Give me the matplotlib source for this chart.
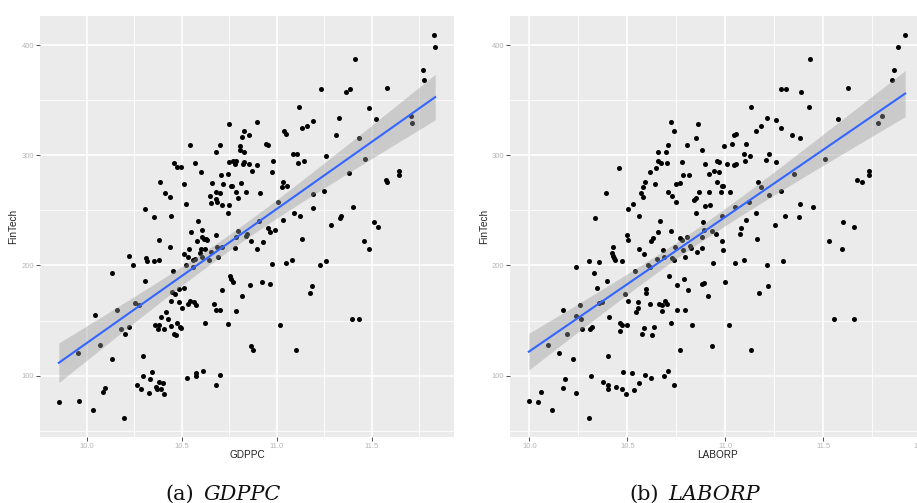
import numpy as np
import matplotlib
matplotlib.use("Agg")
import matplotlib.pyplot as plt

# ---------------- data ----------------
gdppc = [11.828, 11.835, 11.772, 11.775, 11.412, 11.235, 11.389, 11.363, 11.579, 11.118,
         11.489, 11.709, 11.711, 11.326, 11.525, 11.191, 11.158, 11.135, 10.896, 10.749,
         11.037, 11.049, 11.311, 11.435, 10.830, 10.856, 10.818, 10.544, 10.704, 10.807,
         10.942, 10.953, 10.805, 10.681, 10.828, 11.084, 11.109, 11.260, 11.463, 10.460,
         10.572, 10.474, 10.495, 10.604, 10.749, 10.770, 10.784, 10.781, 10.823, 10.826,
         10.854, 10.898, 10.982, 11.114, 11.142, 10.870, 10.977, 11.381, 10.746, 10.705,
         10.384, 10.511, 10.660, 10.719, 10.811, 11.035, 11.026, 11.053, 11.575, 11.582,
         11.644, 11.642, 10.758, 10.767, 10.679, 10.700, 10.786, 10.840, 10.912, 11.249,
         11.193, 10.411, 10.437, 10.651, 10.679, 10.656, 10.686, 10.712, 10.751, 10.795,
         10.523, 11.007, 10.307, 10.353, 10.446, 10.744, 11.191, 11.402, 11.089, 11.121,
         11.337, 11.333, 10.586, 10.907, 11.035, 11.284, 11.511, 11.533, 10.547, 10.607,
         10.679, 10.796, 10.954, 10.991, 10.967, 10.837, 10.846, 10.788, 10.382, 10.605,
         10.618, 10.626, 10.633, 10.579, 10.867, 10.930, 11.458, 11.133, 10.437, 10.539,
         10.600, 10.621, 10.684, 10.714, 10.781, 10.896, 11.484, 10.223, 10.314, 10.318,
         10.356, 10.381, 10.514, 10.535, 10.570, 10.561, 10.598, 10.607, 10.644, 10.656,
         10.691, 10.242, 10.135, 10.454, 10.525, 10.561, 10.977, 11.047, 11.079, 11.228,
         11.258, 10.305, 10.756, 10.758, 10.772, 10.861, 10.921, 10.967, 10.514, 10.486,
         10.449, 10.467, 10.711, 10.819, 11.174, 11.186, 10.444, 10.486, 10.535, 10.542,
         10.563, 10.577, 10.253, 10.275, 10.670, 10.504, 10.160, 10.416, 10.681, 10.700,
         10.786, 10.044, 10.389, 10.430, 10.625, 10.360, 10.381, 10.446, 10.491, 10.498,
         10.475, 10.742, 11.018, 11.398, 11.433, 10.182, 10.223, 10.200, 10.377, 10.405,
         10.461, 10.472, 9.954, 10.070, 10.135, 10.298, 10.863, 10.875, 11.102, 10.342,
         10.298, 10.332, 10.379, 10.402, 10.614, 10.575, 10.577, 10.700, 10.530, 10.263,
         10.288, 10.326, 10.367, 10.372, 10.391, 10.407, 10.679, 10.086, 10.096, 9.853,
         9.961, 10.035, 10.198]
fintech_a = [409, 398, 377, 368, 387, 360, 360, 357, 361, 344,
             343, 336, 329, 334, 333, 331, 327, 325, 330, 328,
             322, 319, 318, 316, 322, 318, 317, 309, 309, 308,
             310, 309, 305, 303, 303, 301, 301, 299, 297, 293,
             293, 289, 289, 285, 294, 295, 295, 292, 292, 294,
             292, 291, 295, 293, 295, 286, 285, 284, 283, 282,
             276, 274, 275, 274, 275, 276, 271, 272, 278, 276,
             286, 282, 272, 272, 267, 266, 267, 267, 266, 268,
             265, 266, 262, 263, 260, 257, 258, 255, 255, 261,
             256, 258, 251, 244, 245, 248, 252, 253, 248, 245,
             245, 243, 240, 240, 241, 237, 239, 235, 230, 232,
             228, 231, 234, 232, 230, 227, 229, 226, 223, 226,
             224, 224, 223, 222, 222, 221, 222, 224, 217, 215,
             215, 215, 217, 217, 216, 215, 215, 209, 207, 204,
             204, 205, 210, 208, 206, 205, 211, 208, 205, 212,
             208, 200, 193, 195, 200, 199, 201, 202, 205, 200,
             204, 186, 190, 188, 185, 182, 185, 183, 180, 179,
             176, 174, 178, 172, 175, 181, 168, 167, 165, 168,
             167, 164, 166, 164, 165, 161, 160, 158, 160, 160,
             159, 155, 153, 151, 148, 146, 146, 145, 144, 143,
             148, 147, 146, 151, 151, 142, 144, 138, 142, 142,
             138, 137, 121, 128, 115, 118, 127, 123, 123, 103,
             100, 97, 94, 93, 104, 102, 100, 101, 98, 92,
             88, 84, 90, 88, 88, 83, 92, 85, 89, 76,
             77, 69, 62]

laborp = [10.724, 10.861, 10.740, 10.852, 10.707, 10.806, 10.655, 10.697, 10.881, 10.655,
          10.670, 10.704, 10.781, 10.896, 10.456, 10.646, 10.616, 10.784, 10.815, 10.918,
          10.588, 10.643, 10.747, 10.769, 10.580, 10.570, 10.393, 10.707, 10.866, 10.917,
          10.580, 10.728, 10.748, 10.842, 10.849, 10.895, 10.923, 10.527, 10.503, 10.558,
          10.335, 10.667, 10.852, 10.888, 11.918, 11.881, 11.861, 11.850, 11.432, 11.286,
          11.311, 11.388, 11.626, 11.131, 11.427, 11.573, 11.211, 11.257, 11.182, 11.158,
          11.282, 11.779, 11.798, 11.053, 11.043, 11.036, 11.105, 10.995, 11.340, 11.381,
          11.095, 11.124, 11.102, 11.224, 11.206, 11.259, 10.959, 10.966, 11.007, 11.043,
          11.053, 10.942, 10.966, 11.510, 11.349, 11.672, 11.696, 11.735, 11.735, 10.956,
          10.981, 10.988, 10.978, 11.026, 11.168, 11.182, 11.223, 11.282, 11.121, 11.051,
          11.383, 11.446, 11.155, 11.104, 11.306, 11.374, 10.981, 11.255, 11.078, 11.600,
          11.655, 10.500, 10.503, 10.656, 10.724, 10.633, 10.622, 10.769, 10.779, 10.804,
          10.893, 10.930, 10.429, 10.420, 10.425, 10.434, 10.439, 10.474, 10.357, 10.304,
          10.560, 10.587, 10.680, 10.651, 10.687, 10.728, 10.736, 10.743, 10.786, 10.821,
          10.825, 10.793, 10.857, 10.881, 10.879, 10.240, 10.604, 10.614, 10.539, 10.328,
          10.398, 10.345, 10.713, 10.789, 10.753, 10.810, 10.889, 10.883, 10.910, 10.937,
          10.595, 10.597, 10.486, 10.502, 10.554, 10.617, 10.660, 10.677, 10.692, 10.704,
          10.679, 10.354, 10.372, 10.259, 10.170, 10.554, 10.543, 10.752, 10.796, 10.238,
          10.265, 10.408, 10.464, 10.473, 10.497, 10.270, 10.310, 10.321, 10.461, 10.723,
          10.828, 10.587, 10.636, 10.577, 10.624, 10.190, 10.095, 10.932, 10.770, 10.151,
          10.224, 10.401, 10.316, 10.478, 10.524, 10.590, 10.622, 10.687, 10.707, 10.184,
          10.170, 10.060, 10.238, 10.374, 10.400, 10.403, 10.442, 10.473, 10.493, 10.534,
          10.561, 10.736, 9.997, 10.043, 10.117, 10.303, 10.951, 11.077, 10.985, 10.990,
          11.160, 11.049, 11.094, 11.211, 11.296, 11.531, 11.597, 10.998, 11.219, 11.173,
          11.553, 11.658, 11.020, 11.131]
fintech_b = [330, 328, 322, 316, 309, 309, 303, 303, 305, 295,
             293, 293, 294, 292, 288, 288, 285, 282, 282, 283,
             276, 274, 274, 275, 271, 266, 266, 267, 267, 267,
             262, 263, 258, 259, 261, 254, 255, 256, 251, 245,
             243, 240, 248, 239, 409, 398, 377, 368, 387, 360,
             360, 357, 361, 344, 344, 333, 334, 332, 327, 322,
             325, 329, 336, 319, 318, 310, 310, 308, 318, 316,
             301, 299, 295, 301, 296, 294, 295, 294, 292, 291,
             292, 286, 285, 297, 283, 278, 276, 286, 282, 276,
             272, 272, 267, 267, 276, 271, 264, 268, 258, 253,
             256, 253, 248, 241, 245, 244, 245, 237, 234, 239,
             235, 228, 223, 230, 231, 225, 222, 225, 223, 226,
             232, 231, 217, 211, 209, 207, 205, 204, 203, 204,
             215, 210, 214, 206, 208, 207, 205, 217, 214, 218,
             216, 208, 212, 216, 226, 199, 200, 199, 195, 193,
             186, 180, 190, 188, 182, 178, 184, 183, 172, 202,
             179, 175, 174, 168, 167, 165, 165, 164, 168, 165,
             159, 166, 167, 164, 160, 161, 158, 160, 160, 154,
             151, 153, 148, 146, 146, 142, 142, 144, 141, 148,
             146, 143, 144, 138, 137, 138, 128, 127, 123, 121,
             115, 118, 100, 103, 102, 101, 98, 100, 104, 97,
             89, 85, 84, 94, 92, 88, 90, 88, 83, 87,
             93, 92, 77, 76, 69, 62, 229, 229, 222, 214,
             224, 202, 205, 200, 204, 222, 215, 185, 181, 175,
             151, 151, 146, 123]

y_ticks = [100, 200, 300, 400]
y_ticklabels = ["100", "200", "300", "400"]
xa_ticks = [10.0, 10.5, 11.0, 11.5]
xa_ticklabels = ["10.0", "10.5", "11.0", "11.5"]
xb_ticks = [10.0, 10.5, 11.0, 11.5, 12.0]
xb_ticklabels = ["10.0", "10.5", "11.0", "11.5", "12.0"]
x_names = ["GDPPC", "LABORP"]
y_name = "FinTech"
caption_tags = ["(a)", "(b)"]

# ---------------- figure ----------------
W, H = 917, 503
fig = plt.figure(figsize=(W / 100, H / 100), dpi=100)
fig.patch.set_facecolor("white")

panel_bottom = (H - 436.7) / H
panel_h = 420.7 / H
panel_w = 414 / W
ax_a = fig.add_axes([40 / W, panel_bottom, panel_w, panel_h])
ax_b = fig.add_axes([510 / W, panel_bottom, panel_w, panel_h])


def expand(v, frac=0.05):
    lo, hi = min(v), max(v)
    r = hi - lo
    return lo - frac * r, hi + frac * r


def draw_panel(ax, x, y, xt, xtl):
    x = np.asarray(x, float)
    y = np.asarray(y, float)
    ax.set_facecolor("#EBEBEB")
    for s in ax.spines.values():
        s.set_visible(False)
    ax.scatter(x, y, s=13, c="black", linewidths=0, zorder=2)
    # linear fit with 95% confidence band
    n = len(x)
    b, a = np.polyfit(x, y, 1)
    xs = np.linspace(x.min(), x.max(), 80)
    ys = a + b * xs
    resid = y - (a + b * x)
    s_err = np.sqrt(np.sum(resid ** 2) / (n - 2))
    sxx = np.sum((x - x.mean()) ** 2)
    se = s_err * np.sqrt(1.0 / n + (xs - x.mean()) ** 2 / sxx)
    t = 1.97
    ax.fill_between(xs, ys - t * se, ys + t * se, color="#999999", alpha=0.4,
                    linewidth=0, zorder=3)
    ax.plot(xs, ys, color="#3366FF", lw=1.5, zorder=4)

    ax.set_xlim(*expand(x))
    ax.set_ylim(*expand(y))
    ax.set_xticks(xt)
    ax.set_xticklabels(xtl)
    ax.set_yticks(y_ticks)
    ax.set_yticklabels(y_ticklabels)
    step = xt[1] - xt[0]
    xmin, xmax = ax.get_xlim()
    minors = np.arange(xt[0] - step / 2, xmax + 1e-9, step)
    ax.set_xticks([m for m in minors if m >= xmin - 1e-9], minor=True)
    ax.set_yticks([50, 150, 250, 350], minor=True)
    ax.grid(which="major", color="white", lw=1.2, zorder=0)
    ax.grid(which="minor", color="white", lw=0.6, zorder=0)
    ax.set_axisbelow(True)
    ax.tick_params(which="major", length=2.7, width=0.6, color="#333333",
                   labelsize=5.5, labelcolor="#b5b5b5", pad=1.6)
    ax.tick_params(which="minor", length=0)
    for lab in ax.get_xticklabels() + ax.get_yticklabels():
        lab.set_fontfamily("Liberation Sans")


draw_panel(ax_a, gdppc, fintech_a, xa_ticks, xa_ticklabels)
draw_panel(ax_b, laborp, fintech_b, xb_ticks, xb_ticklabels)

# axis titles
lab_kw = dict(fontsize=7.2, color="#222222", family="Liberation Sans")
fig.text(247 / W, 1 - 454.7 / H, x_names[0], ha="center", va="center", **lab_kw)
fig.text(717 / W, 1 - 454.7 / H, x_names[1], ha="center", va="center", **lab_kw)
fig.text(13.5 / W, 1 - 226.4 / H, y_name, rotation=90, ha="center", va="center", **lab_kw)
fig.text(484.2 / W, 1 - 226.4 / H, y_name, rotation=90, ha="center", va="center", **lab_kw)

# captions
cap_y = 1 - 500 / H
cap_kw = dict(fontsize=15, color="#111111", family="DejaVu Serif", va="baseline", ha="left")
fig.text(165.7 / W, cap_y, caption_tags[0], **cap_kw)
fig.text(204 / W, cap_y, x_names[0], style="italic", **cap_kw)
fig.text(629.3 / W, cap_y, caption_tags[1], **cap_kw)
fig.text(668 / W, cap_y, x_names[1], style="italic", **cap_kw)

fig.savefig("out.png", dpi=100)
